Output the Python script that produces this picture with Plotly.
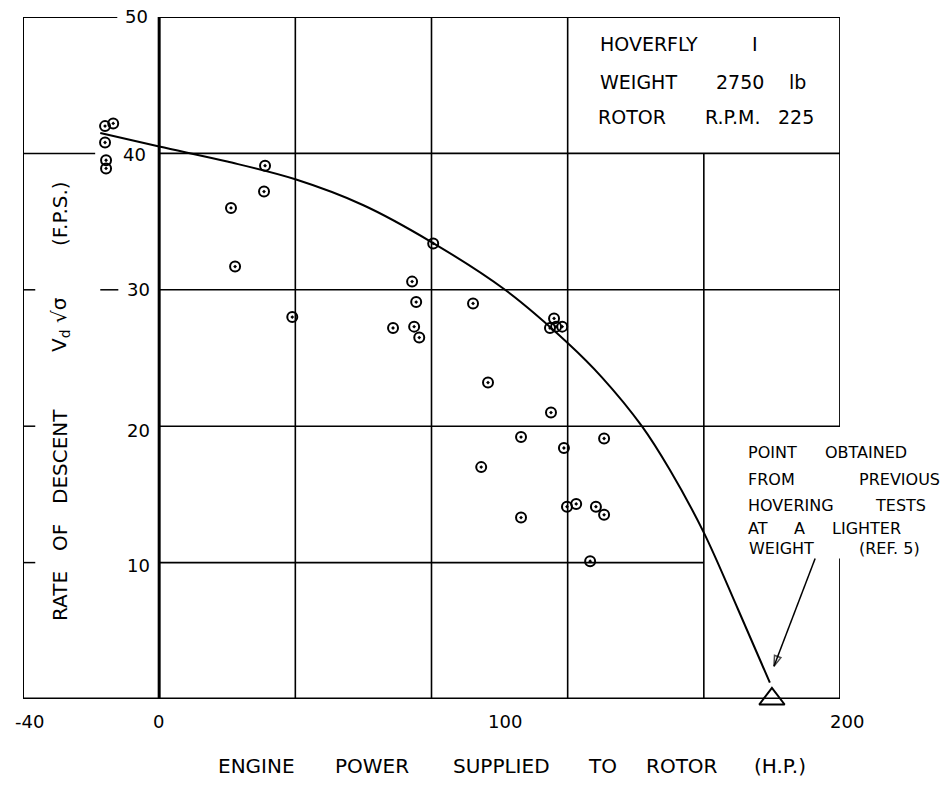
import plotly.graph_objects as go

# ---- data ----
pts_x = [-15.9, -13.5, -15.9, -15.6, -15.6, 31.1, 30.8, 21.1, 22.3, 39.1, 80.5,
         74.3, 75.5, 68.7, 74.9, 76.4, 92.2, 116.0, 114.8, 116.6, 118.4, 96.6,
         115.1, 106.3, 118.9, 130.7, 94.6, 119.8, 122.5, 128.3, 130.7, 106.3, 126.6]
pts_y = [42.0, 42.2, 40.8, 39.5, 38.9, 39.1, 37.2, 36.0, 31.7, 28.0, 33.4,
         30.6, 29.1, 27.2, 27.3, 26.5, 29.0, 27.9, 27.2, 27.3, 27.3, 23.2,
         21.0, 19.2, 18.4, 19.1, 17.0, 14.1, 14.3, 14.1, 13.5, 13.3, 10.1]

curve_x = [-17.3, 0.0, 20.0, 40.0, 60.0, 80.0, 101.6, 120.0, 130.0, 141.8,
           150.0, 160.0, 170.0, 179.4]
curve_y = [41.5, 40.5, 39.4, 38.1, 36.2, 33.5, 30.0, 26.1, 23.6, 20.0,
           16.8, 12.2, 6.6, 1.2]

ref_x = [180]
ref_y = [0]

arrow_x = [192.7, 180.6]
arrow_y = [10.3, 2.4]

x_ticks = [-40, 0, 100, 200]
y_ticks = [50, 40, 30, 20, 10]

info_lines = ["HOVERFLY", "I", "WEIGHT", "2750", "lb", "ROTOR", "R.P.M.", "225"]
note_words = ["POINT", "OBTAINED", "FROM", "PREVIOUS", "HOVERING", "TESTS",
              "AT", "A", "LIGHTER", "WEIGHT", "(REF. 5)"]
x_title_words = ["ENGINE", "POWER", "SUPPLIED", "TO", "ROTOR", "(H.P.)"]
y_title_words = ["RATE", "OF", "DESCENT", "V<sub>d</sub> √σ", "(F.P.S.)"]

# ---- layout geometry ----
W, H = 951, 785
L, R, T, B = 23, 111, 17, 86
PW, PH = W - L - R, H - T - B
FONT = "DejaVu Sans"


def px(xp):
    return (xp - L) / PW


def py(yp):
    return (H - B - yp) / PH


fig = go.Figure()

fig.add_trace(go.Scatter(x=curve_x, y=curve_y, mode="lines",
                         line=dict(color="black", width=2, shape="spline", smoothing=1.0),
                         hoverinfo="skip", showlegend=False))
fig.add_trace(go.Scatter(x=pts_x, y=pts_y, mode="markers",
                         marker=dict(symbol="circle-open-dot", size=10, color="black",
                                     line=dict(color="black", width=2)),
                         showlegend=False, cliponaxis=False))
fig.add_trace(go.Scatter(x=ref_x, y=ref_y, mode="markers",
                         marker=dict(symbol="triangle-up-open", size=22, color="black",
                                     line=dict(color="black", width=2)),
                         showlegend=False, cliponaxis=False))
fig.add_trace(go.Scatter(x=arrow_x, y=arrow_y, mode="lines+markers",
                         line=dict(color="black", width=1.5),
                         marker=dict(symbol=["circle", "arrow-open"], size=[0, 11],
                                     angleref="previous", color="black",
                                     line=dict(color="black", width=1.5)),
                         showlegend=False, cliponaxis=False, hoverinfo="skip"))

shapes = []


def seg(x0, y0, x1, y1, w=1.5):
    shapes.append(dict(type="line", xref="x", yref="y", x0=x0, y0=y0, x1=x1, y1=y1,
                       line=dict(color="black", width=w), layer="below"))


# frame and grid
seg(-40, 0, 200, 0, 3)
seg(0, 0, 0, 50, 3)
seg(-40, 0, -40, 50, 2)
seg(-40, 50, -12.3, 50, 2)
seg(0, 50, 200, 50, 2)
seg(-40, 40, -18.8, 40, 1.5)
seg(-17.3, 30, -12.0, 30, 1.5)
for yv in (30, 20, 10):
    seg(-40, yv, -36.4, yv, 1.5)
for yv in (40, 30, 20):
    seg(0, yv, 200, yv, 1.6)
seg(0, 10, 160, 10, 1.6)
for xv in (40, 80, 120):
    seg(xv, 0, xv, 50, 1.6)
seg(160, 0, 160, 40, 1.6)
seg(200, 20, 200, 50, 1.8)
seg(200, 0, 200, 10.3, 1.8)

ann = []


def txt(text, xp, yp, size=18, anchor="center", angle=0):
    ann.append(dict(text=text, x=px(xp), y=py(yp), xref="paper", yref="paper",
                    xanchor=anchor, yanchor="middle", showarrow=False, textangle=angle,
                    font=dict(family=FONT, size=size, color="black")))


# tick labels
x_tick_pos = [29, 158, 505, 847]
for v, xp in zip(x_ticks, x_tick_pos):
    txt(str(v), xp, 721, 18)
y_tick_pos = [(150, 16), (148, 154), (152, 289), (152, 430), (152, 565)]
for v, (xp, yp) in zip(y_ticks, y_tick_pos):
    txt(str(v), xp, yp, 18, "right")

# axis titles
x_title_pos = [256, 372, 501, 602, 682, 780]
for w_, xp in zip(x_title_words, x_title_pos):
    txt(w_, xp, 766, 20)
y_title_pos = [596, 538, 457, 325, 214]
for w_, yp in zip(y_title_words, y_title_pos):
    txt(w_, 60, yp, 20, "center", -90)

# info box
info_pos = [(598, 44, "left"), (755, 44, "center"),
            (598, 82, "left"), (740, 82, "center"), (797, 82, "center"),
            (596, 117, "left"), (733, 117, "center"), (796, 117, "center")]
for w_, (xp, yp, a) in zip(info_lines, info_pos):
    txt(w_, xp, yp, 19, a)

# note
note_pos = [(746, 452), (823, 452), (746, 479), (857, 479), (746, 505), (873, 505),
            (746, 528), (792, 528), (830, 528), (747, 548), (857, 548)]
for w_, (xp, yp) in zip(note_words, note_pos):
    txt(w_, xp, yp, 16, "left")

fig.update_layout(
    width=W, height=H,
    margin=dict(l=L, r=R, t=T, b=B, pad=0),
    paper_bgcolor="white", plot_bgcolor="white",
    xaxis=dict(range=[-40, 200], showgrid=False, zeroline=False, showline=False,
               showticklabels=False, ticks=""),
    yaxis=dict(range=[0, 50], showgrid=False, zeroline=False, showline=False,
               showticklabels=False, ticks=""),
    shapes=shapes, annotations=ann, showlegend=False,
)

fig.write_html("out.html")
